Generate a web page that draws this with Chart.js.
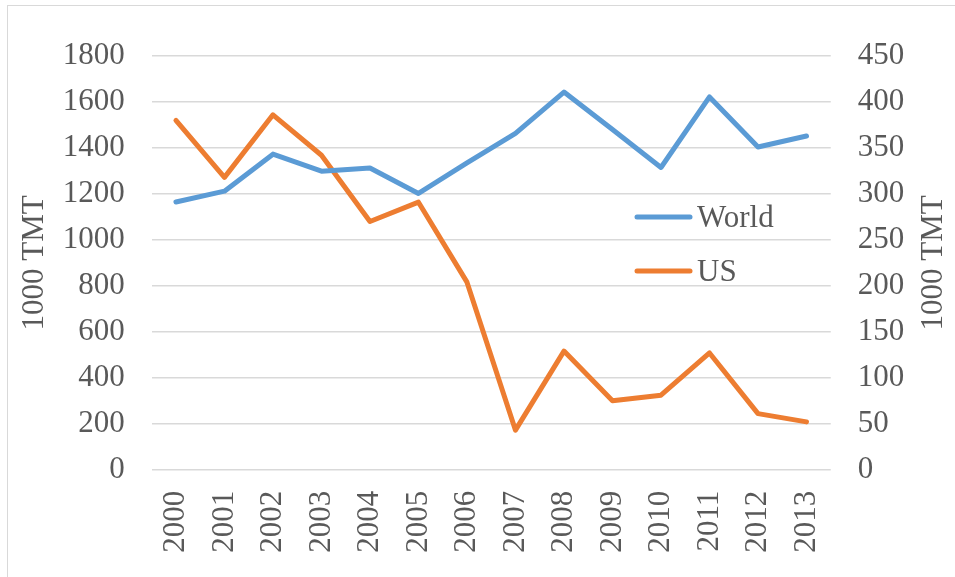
<!DOCTYPE html>
<html>
<head>
<meta charset="utf-8">
<script src="https://cdn.jsdelivr.net/npm/chart.js@4"></script>
<style>
  html, body { margin: 0; padding: 0; background: #fff; }
  #wrap { width: 955px; height: 577px; position: relative; }
</style>
</head>
<body>
<div id="wrap"><canvas id="grafico" width="955" height="577"></canvas></div>
<script>
// dados
const anos = ["2000", "2001", "2002", "2003", "2004", "2005", "2006",
              "2007", "2008", "2009", "2010", "2011", "2012", "2013"];
const mundo = [1165, 1212, 1373, 1299, 1313, 1202, 1335, 1463, 1643, 1480, 1315, 1622, 1404, 1452];
const eua = [380, 318, 386, 342, 270, 291, 204, 43, 129, 75, 81, 127, 61, 52];
const tituloEixo = "1000 TMT";

const FONTE = "'Liberation Serif', 'Times New Roman', serif";
const COR_TEXTO = "#595959";
const TAM = 31;

/* ------------------------------
   moldura, legenda e título direito
-------------------------------*/
const extras = {
    id: "extras",
    beforeDraw(chart) {
        const ctx = chart.ctx;
        ctx.save();
        ctx.fillStyle = "#fff";
        ctx.fillRect(0, 0, chart.width, chart.height);
        ctx.strokeStyle = "#d9d9d9";
        ctx.lineWidth = 1;
        ctx.strokeRect(7.5, 5.5, 1000, 1000);
        ctx.restore();
    },
    afterDraw(chart) {
        const ctx = chart.ctx;
        const area = chart.chartArea;
        ctx.save();

        // legenda dentro da área do gráfico
        chart.data.datasets.forEach((ds, i) => {
            const y = 217 + i * 54;
            ctx.strokeStyle = ds.borderColor;
            ctx.lineWidth = 5;
            ctx.lineCap = "round";
            ctx.beginPath();
            ctx.moveTo(637, y);
            ctx.lineTo(690, y);
            ctx.stroke();
            ctx.fillStyle = COR_TEXTO;
            ctx.font = TAM + "px " + FONTE;
            ctx.textAlign = "left";
            ctx.textBaseline = "alphabetic";
            ctx.fillText(ds.label, 697, y + 10);
        });

        // título do eixo direito (lido de baixo para cima)
        ctx.translate(934, (area.top + area.bottom) / 2);
        ctx.rotate(-Math.PI / 2);
        ctx.fillStyle = COR_TEXTO;
        ctx.font = TAM + "px " + FONTE;
        ctx.textAlign = "center";
        ctx.textBaseline = "middle";
        ctx.fillText(tituloEixo, 0, 0);
        ctx.restore();
    }
};

new Chart(document.getElementById("grafico"), {
    type: "line",
    data: {
        labels: anos,
        datasets: [
            {
                label: "World",
                data: mundo,
                yAxisID: "y",
                borderColor: "#5b9bd5",
                backgroundColor: "#5b9bd5",
                borderWidth: 5,
                pointRadius: 0,
                tension: 0,
                borderJoinStyle: "round",
                borderCapStyle: "round"
            },
            {
                label: "US",
                data: eua,
                yAxisID: "y2",
                borderColor: "#ed7d31",
                backgroundColor: "#ed7d31",
                borderWidth: 5,
                pointRadius: 0,
                tension: 0,
                borderJoinStyle: "round",
                borderCapStyle: "round"
            }
        ]
    },
    options: {
        responsive: false,
        animation: false,
        layout: { padding: { top: 56, left: 8, right: 8, bottom: 0 } },
        plugins: {
            legend: { display: false },
            tooltip: { enabled: false }
        },
        scales: {
            x: {
                offset: true,
                grid: { display: false, drawTicks: false },
                border: { display: false },
                ticks: {
                    color: COR_TEXTO,
                    font: { family: FONTE, size: TAM },
                    minRotation: 90,
                    maxRotation: 90,
                    padding: 21,
                    autoSkip: false
                },
                afterFit(scale) { scale.height = 107.3; }
            },
            y: {
                position: "left",
                min: 0,
                max: 1800,
                grid: { color: "#d9d9d9", lineWidth: 1.5, drawTicks: false },
                border: { display: false },
                ticks: {
                    stepSize: 200,
                    color: COR_TEXTO,
                    font: { family: FONTE, size: TAM },
                    padding: 27,
                    callback: v => String(v)
                },
                title: {
                    display: true,
                    text: tituloEixo,
                    color: COR_TEXTO,
                    font: { family: FONTE, size: TAM },
                    padding: { top: 8, bottom: 0 }
                },
                afterFit(scale) { scale.width = 143.7; }
            },
            y2: {
                position: "right",
                min: 0,
                max: 450,
                grid: { display: false, drawTicks: false },
                border: { display: false },
                ticks: {
                    stepSize: 50,
                    color: COR_TEXTO,
                    font: { family: FONTE, size: TAM },
                    padding: 27,
                    callback: v => String(v)
                },
                afterFit(scale) { scale.width = 116.25; }
            }
        }
    },
    plugins: [extras]
});
</script>
</body>
</html>
